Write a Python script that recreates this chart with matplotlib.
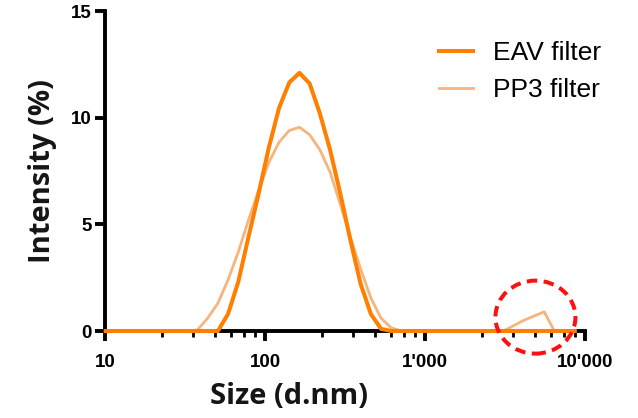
"""
DLS size distribution: EAV filter vs PP3 filter (intensity %).
"""

import numpy as np
import matplotlib
matplotlib.use('Agg')
import matplotlib.pyplot as plt
from matplotlib.patches import Ellipse
from matplotlib.ticker import FixedLocator, FixedFormatter, NullFormatter

# --- data (Zetasizer size bins, d.nm) ---
size_nm = [10.10, 11.70, 13.54, 15.69, 18.17, 21.04, 24.36, 28.21, 32.67, 37.84,
           43.82, 50.75, 58.77, 68.06, 78.82, 91.28, 105.7, 122.4, 141.8, 164.2,
           190.1, 220.2, 255.0, 295.3, 342.0, 396.1, 458.7, 531.2, 615.1, 712.4,
           825.0, 955.4, 1106, 1281, 1484, 1718, 1990, 2305, 2669, 3091,
           3580, 4145, 4801, 5560, 6439, 7456, 8635]

eav_filter = [0, 0, 0, 0, 0, 0, 0, 0, 0, 0,
              0, 0, 0.8, 2.3, 4.4, 6.45, 8.6, 10.45, 11.65, 12.1,
              11.6, 10.2, 8.5, 6.45, 4.25, 2.2, 0.8, 0.1, 0, 0,
              0, 0, 0, 0, 0, 0, 0, 0, 0, 0,
              0, 0, 0, 0, 0, 0, 0]

pp3_filter = [0, 0, 0, 0, 0, 0, 0, 0, 0, 0.05,
              0.6, 1.3, 2.4, 3.7, 5.2, 6.6, 7.9, 8.85, 9.4, 9.55,
              9.2, 8.5, 7.45, 5.95, 4.4, 2.9, 1.55, 0.6, 0.15, 0,
              0, 0, 0, 0, 0, 0, 0, 0, 0, 0,
              0.25, 0.5, 0.7, 0.9, 0, 0, 0]

series_labels = ['EAV filter', 'PP3 filter']

xtick_values = [10, 100, 1000, 10000]
xtick_labels = ['10', '100', "1'000", "10'000"]
ytick_values = [0, 5, 10, 15]

# highlighted region (dashed circle)
circle_center = (4900, 0.65)

W, H = 638, 418


def main():
    fig = plt.figure(figsize=(W / 100, H / 100), dpi=100)
    ax = fig.add_axes([105 / W, 1 - 331 / H, 480 / W, 320 / H])

    ax.plot(size_nm, pp3_filter, color='#F5B57C', linewidth=2.0,
            label=series_labels[1], clip_on=False, zorder=3)
    ax.plot(size_nm, eav_filter, color='#FF7F00', linewidth=2.9,
            label=series_labels[0], clip_on=False, zorder=4)

    ax.set_xscale('log')
    ax.set_xlim(10, 10000)
    ax.set_ylim(0, 15)

    # Prism-style minor ticks: 6 linear steps inside each decade
    minor = []
    for dec in [10, 100, 1000]:
        minor += list(dec * np.linspace(1, 10, 8)[1:-1])
    ax.xaxis.set_major_locator(FixedLocator(xtick_values))
    ax.xaxis.set_major_formatter(FixedFormatter(xtick_labels))
    ax.xaxis.set_minor_locator(FixedLocator(minor))
    ax.xaxis.set_minor_formatter(NullFormatter())
    ax.set_yticks(ytick_values)

    for s in ['top', 'right']:
        ax.spines[s].set_visible(False)
    for s in ['left', 'bottom']:
        ax.spines[s].set_linewidth(2.8)

    tick_font = dict(family='Liberation Sans', weight='bold', size=13.5)
    ax.tick_params(axis='both', which='major', length=7.5, width=2.8, direction='out')
    ax.tick_params(axis='x', which='minor', length=4.5, width=2.0, direction='out')
    ax.tick_params(axis='x', which='major', pad=9)
    ax.tick_params(axis='y', which='major', pad=2)
    for lab in ax.get_xticklabels() + ax.get_yticklabels():
        lab.set_fontproperties(matplotlib.font_manager.FontProperties(**tick_font))

    label_font = dict(family='Open Sans', weight='bold', size=21, color='#151515')
    ax.set_xlabel('Size (d.nm)', va='center', **label_font)
    ax.xaxis.set_label_coords((289 - 105) / 480, (331 - 397) / 320)
    ax.set_ylabel('Intensity (%)', va='center', **label_font)
    ax.yaxis.set_label_coords((43 - 105) / 480, 0.5)

    handles, labels = ax.get_legend_handles_labels()
    ax.legend(handles[::-1], labels[::-1], loc='center left',
              bbox_to_anchor=(439 / W, 1 - 71.5 / H), bbox_transform=fig.transFigure,
              frameon=False, borderpad=0, borderaxespad=0,
              handlelength=1.29, handletextpad=0.76, labelspacing=0.5,
              prop=dict(family='Liberation Sans', size=19))

    # dashed red circle around the large-size population
    cx, cy = fig.transFigure.inverted().transform(ax.transData.transform(circle_center))
    ell = Ellipse((cx, cy), 80 / W, 73 / H, transform=fig.transFigure,
                  fill=False, edgecolor='#FF1010', linewidth=2.9,
                  linestyle=(0, (2.6, 1.6)), zorder=5)
    fig.patches.append(ell)

    fig.savefig('out.png', dpi=100)
    plt.close(fig)


if __name__ == '__main__':
    main()
